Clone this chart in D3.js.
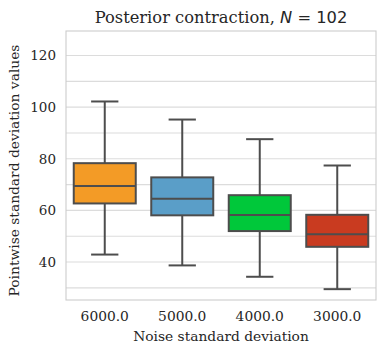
<!DOCTYPE html>
<head>
<meta charset="utf-8">
<script src="https://d3js.org/d3.v7.min.js"></script>
<style>
body { margin: 0; background: #fff; }
text { font-family: "DejaVu Serif", serif; fill: #262626; }
</style>
</head>
<body>
<svg class="chart"></svg>
<script>
// data
var categories = ["6000.0", "5000.0", "4000.0", "3000.0"];
var whiskerLow = [42.9, 38.7, 34.3, 29.5];
var q1 = [62.7, 58.1, 52.0, 45.9];
var median = [69.5, 64.5, 58.2, 50.8];
var q3 = [78.3, 72.8, 65.9, 58.3];
var whiskerHigh = [102.2, 95.2, 87.6, 77.4];
var colors = ["#f39b26", "#5a9ec8", "#00c83a", "#c93b20"];
var yTicks = [40, 60, 80, 100, 120];
var yGrid = [30, 40, 50, 60, 70, 80, 90, 100, 110, 120];

var margin = {top: 31, right: 9, bottom: 53, left: 66};
var W = 385, H = 353;
var width = W - margin.left - margin.right;
var height = H - margin.top - margin.bottom;

var svg = d3.select(".chart").attr("width", W).attr("height", H);
var chart = svg.append("g")
	.attr("transform", "translate(" + margin.left + "," + margin.top + ")");

var x = d3.scaleBand().domain(categories).range([0, width]).paddingInner(0.2).paddingOuter(0.1);
var y = d3.scaleLinear().domain([25.3, 129.5]).range([height, 0]);

//grid
chart.selectAll(".grid").data(yGrid).enter().append("line")
	.attr("x1", 0).attr("x2", width)
	.attr("y1", function(d){ return y(d); })
	.attr("y2", function(d){ return y(d); })
	.attr("stroke", "#dcdcdc").attr("stroke-width", 1.1);

//frame
chart.append("rect").attr("width", width).attr("height", height)
	.attr("fill", "none").attr("stroke", "#cccccc").attr("stroke-width", 1.1);

//axes
var yAxis = chart.append("g").call(d3.axisLeft(y).tickValues(yTicks).tickSize(0).tickPadding(10));
yAxis.select(".domain").remove();
yAxis.selectAll("text").style("font-size", "13.5px").style("font-family", "DejaVu Serif").attr("fill", "#262626");

var xAxis = chart.append("g").attr("transform", "translate(0," + height + ")")
	.call(d3.axisBottom(x).tickSize(0).tickPadding(11));
xAxis.select(".domain").remove();
xAxis.selectAll("text").style("font-size", "13.8px").style("font-family", "DejaVu Serif").attr("fill", "#262626");

//boxes
var edge = "#4d4d4d";
var bw = x.bandwidth();
var boxes = chart.selectAll(".box").data(categories).enter().append("g")
	.attr("transform", function(d){ return "translate(" + x(d) + ",0)"; });

boxes.append("line")
	.attr("x1", bw / 2).attr("x2", bw / 2)
	.attr("y1", function(d, i){ return y(q3[i]); })
	.attr("y2", function(d, i){ return y(whiskerHigh[i]); })
	.attr("stroke", edge).attr("stroke-width", 2);
boxes.append("line")
	.attr("x1", bw / 2).attr("x2", bw / 2)
	.attr("y1", function(d, i){ return y(q1[i]); })
	.attr("y2", function(d, i){ return y(whiskerLow[i]); })
	.attr("stroke", edge).attr("stroke-width", 2);
[whiskerHigh, whiskerLow].forEach(function(arr){
	boxes.append("line")
		.attr("x1", bw / 2 - bw * 0.22).attr("x2", bw / 2 + bw * 0.22)
		.attr("y1", function(d, i){ return y(arr[i]); })
		.attr("y2", function(d, i){ return y(arr[i]); })
		.attr("stroke", edge).attr("stroke-width", 2);
});
boxes.append("rect")
	.attr("x", 0).attr("width", bw)
	.attr("y", function(d, i){ return y(q3[i]); })
	.attr("height", function(d, i){ return y(q1[i]) - y(q3[i]); })
	.attr("fill", function(d, i){ return colors[i]; })
	.attr("stroke", edge).attr("stroke-width", 2);
boxes.append("line")
	.attr("x1", 0).attr("x2", bw)
	.attr("y1", function(d, i){ return y(median[i]); })
	.attr("y2", function(d, i){ return y(median[i]); })
	.attr("stroke", edge).attr("stroke-width", 2);

// title
var title = svg.append("text")
	.attr("x", margin.left + width / 2).attr("y", 23)
	.attr("text-anchor", "middle").style("font-size", "16.3px");
title.append("tspan").text("Posterior contraction, ");
title.append("tspan").style("font-family", "DejaVu Sans").style("font-style", "italic").text("N");
title.append("tspan").style("font-family", "DejaVu Sans").text(" = 102");

// labels
svg.append("text")
	.attr("transform", "translate(19," + (margin.top + height / 2 + 5) + ") rotate(-90)")
	.attr("text-anchor", "middle").style("font-size", "13.8px")
	.text("Pointwise standard deviation values");
svg.append("text")
	.attr("x", margin.left + width / 2).attr("y", 341)
	.attr("text-anchor", "middle").style("font-size", "13.8px")
	.text("Noise standard deviation");
</script>
</body>
